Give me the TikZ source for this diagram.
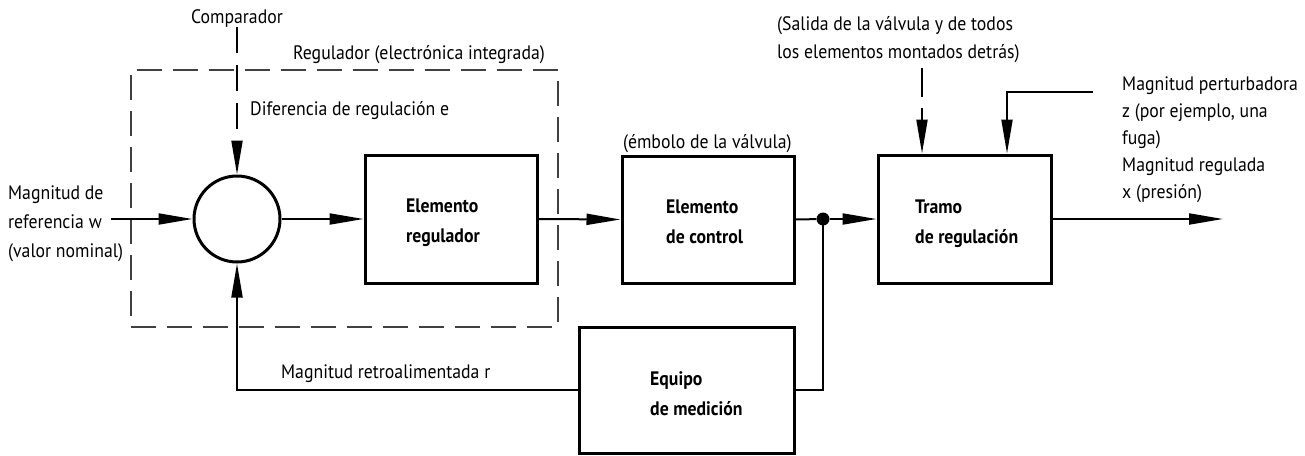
\documentclass[tikz,border=0pt]{standalone}
\usepackage{fontspec}
\setmainfont{PT Sans}[FakeStretch=0.91]
\usetikzlibrary{arrows.meta}
\begin{document}
\begin{tikzpicture}[x=1pt,y=-1pt,
  box/.style={draw, line width=3pt, inner sep=0pt},
  conn/.style={line width=2pt},
  arr/.style={-{Triangle[length=34pt,width=11pt]}},
  lbl/.style={font=\fontsize{19.5}{29}\selectfont, inner sep=0pt, anchor=base west, align=left},
  blbl/.style={inner sep=0pt, anchor=base west, align=left, font=\bfseries\fontsize{19.5}{30}\selectfont},
  regbox/.style={draw=black!75, line width=1.5pt, dash pattern=on 25pt off 11pt, inner sep=0pt}]
\useasboundingbox (0,0) rectangle (1305,455);

% dashed regulator frame
\node[regbox, minimum width=427pt, minimum height=257pt] (reg) at (344.5,198.5) {};

% blocks
\node[box, circle, minimum size=86pt] (cmp) at (237,219) {};
\node[box, minimum width=172pt, minimum height=128pt] (er) at (451,219) {};
\node[box, minimum width=172pt, minimum height=127pt] (ec) at (708,219.5) {};
\node[box, minimum width=215pt, minimum height=126pt] (em) at (686.5,390) {};
\node[box, minimum width=173pt, minimum height=128pt] (tr) at (964.5,219) {};
\node[circle, fill, minimum size=13pt, inner sep=0pt] (dot) at (823,219) {};

% block texts (anchor = baseline of last line)
\node[blbl] (ert) at (406,242) {Elemento\\regulador};
\node[blbl] (ect) at (666,243) {Elemento\\de control};
\node[blbl] (emt) at (650,415) {Equipo\\de medición};
\node[blbl] (trt) at (915,243) {Tramo\\de regulación};

% labels
\node[lbl, anchor=base] (lcmp) at (237,23) {Comparador};
\node[lbl] (lreg) at (293,59) {Regulador (electrónica integrada)};
\node[lbl] (ldif) at (250,115) {Diferencia de regulación e};
\node[lbl] (lw) at (8,257) {Magnitud de\\referencia w\\(valor nominal)};
\node[lbl] (lr) at (281,378) {Magnitud retroalimentada r};
\node[lbl] (lemb) at (623,148) {(émbolo de la válvula)};
\node[lbl, font=\fontsize{19.5}{28}\selectfont] (lsal) at (777,58) {(Salida de la válvula y de todos\\los elementos montados detrás)};
\node[lbl, font=\fontsize{19.5}{27}\selectfont] (lz) at (1122,198) {Magnitud perturbadora\\z (por ejemplo, una\\fuga)\\Magnitud regulada\\x (presión)};

% free ends
\coordinate (inw) at (111,219);
\coordinate (ctop) at (237,27);
\coordinate (stop) at (922,68);
\coordinate (zin) at (1093,92);
\coordinate (zx) at (1007,0);
\coordinate (out) at (1223,219);

% connectors
\draw[conn, arr] (inw) -- (cmp.west);
\draw[conn, arr, dash pattern=on 26pt off 12pt] (ctop) -- (cmp.north);
\draw[conn, arr] (cmp.east) -- (er.west);
\draw[conn, arr] (er.east) -- (ec.west);
\draw[conn] (ec.east) -- (dot);
\draw[conn, arr] (dot) -- (tr.west);
\draw[conn] (dot.center) |- (em.east);
\draw[conn, arr] (em.west) -| (cmp.south);
\draw[conn, arr] (tr.east) -- (out);
\draw[conn, arr, dash pattern=on 29pt off 11pt] (stop) -- (stop |- tr.north);
\draw[conn, arr] (zin) -| (zx |- tr.north);
\end{tikzpicture}
\end{document}
